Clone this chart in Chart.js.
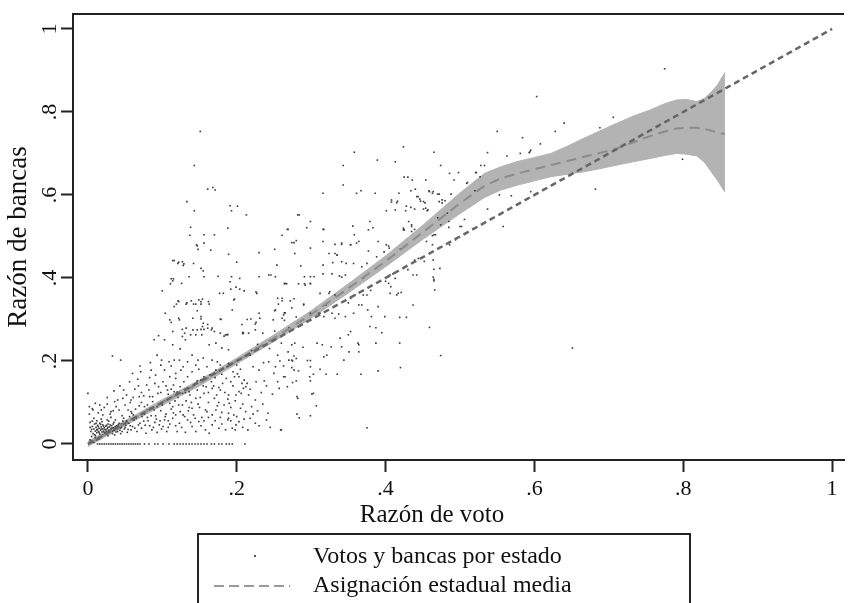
<!DOCTYPE html>
<html lang="es">
<head>
<meta charset="utf-8">
<script src="https://cdn.jsdelivr.net/npm/chart.js@4.4.1/dist/chart.umd.min.js"></script>
<style>
  html, body { margin:0; padding:0; background:#fff; overflow:hidden; }
  #wrap { position:relative; width:848px; height:603px; font-family:"Liberation Serif", serif; color:#111; }
  #grafico { position:absolute; left:0; top:0; }
  .txt { position:absolute; white-space:nowrap; line-height:1; }
  #tituloX { left:302px; width:260px; top:501px; text-align:center; font-size:25px; }
  #leyenda { position:absolute; left:197px; top:533px; width:494px; height:100px; border:2px solid #222; box-sizing:border-box; }
  #leyenda .txt { font-size:24px; left:114px; }
  #punto { position:absolute; left:55px; top:20px; width:2px; height:2px; background:#555; }
  #guion { position:absolute; left:15px; top:49px; }
</style>
</head>
<body>
<div id="wrap">
  <canvas id="grafico" width="848" height="603"></canvas>
  <div class="txt" id="tituloX">Razón de voto</div>
  <div id="leyenda">
    <div id="punto"></div>
    <div class="txt" style="top:8px">Votos y bancas por estado</div>
    <svg id="guion" width="76" height="4"><line x1="0" y1="2" x2="76" y2="2" stroke="#999" stroke-width="2" stroke-dasharray="10 5"/></svg>
    <div class="txt" style="top:37px">Asignación estadual media</div>
  </div>
</div>
<script>
// ===== Ejes =====
const tickValues = [0, 0.2, 0.4, 0.6, 0.8, 1];
const tickLabels = ["0", ".2", ".4", ".6", ".8", "1"];

// ===== Banda de confianza y media (asignación estadual) =====
const bandaX   = [0, 0.05, 0.1, 0.15, 0.2, 0.25, 0.3, 0.35, 0.4, 0.45, 0.5, 0.533, 0.555, 0.578, 0.6, 0.622, 0.645, 0.667, 0.69, 0.711, 0.733, 0.756, 0.775, 0.791, 0.805, 0.818, 0.828, 0.836, 0.846, 0.856];
const mediaY   = [0, 0.05, 0.1, 0.147, 0.2, 0.255, 0.312, 0.375, 0.44, 0.51, 0.58, 0.622, 0.64, 0.652, 0.662, 0.672, 0.682, 0.692, 0.702, 0.712, 0.727, 0.742, 0.753, 0.76, 0.762, 0.762, 0.759, 0.756, 0.75, 0.747];
const bandaInf = [-0.006, 0.044, 0.093, 0.14, 0.193, 0.247, 0.303, 0.364, 0.427, 0.493, 0.555, 0.594, 0.612, 0.624, 0.634, 0.644, 0.65, 0.656, 0.664, 0.672, 0.68, 0.688, 0.695, 0.7, 0.698, 0.694, 0.68, 0.66, 0.635, 0.607];
const bandaSup = [0.006, 0.056, 0.107, 0.154, 0.207, 0.263, 0.321, 0.386, 0.453, 0.527, 0.605, 0.652, 0.668, 0.681, 0.69, 0.7, 0.718, 0.737, 0.756, 0.773, 0.79, 0.805, 0.82, 0.829, 0.83, 0.825, 0.832, 0.845, 0.865, 0.895];

// ===== Linea de 45 grados =====
const diagonalX = [0, 1];
const diagonalY = [0, 1];

// ===== Votos y bancas por estado =====
const puntosCero = [
  [0.013,0],[0.016,0],[0.019,0],[0.022,0],[0.025,0],[0.028,0],[0.031,0],[0.034,0],[0.037,0],[0.040,0],
  [0.043,0],[0.046,0],[0.049,0],[0.052,0],[0.055,0],[0.058,0],[0.061,0],[0.064,0],[0.067,0],[0.070,0],
  [0.076,0],[0.082,0],[0.090,0],[0.094,0],[0.101,0],[0.109,0],[0.116,0],[0.120,0],[0.124,0],[0.128,0],
  [0.132,0],[0.136,0],[0.140,0],[0.144,0],[0.148,0],[0.152,0],[0.156,0],[0.160,0],[0.166,0],[0.170,0],
  [0.176,0],[0.180,0],[0.186,0],[0.190,0],[0.194,0],[0.211,0]
];
const puntosCumulo = [
  [0.004,0.030],[0.006,0.042],[0.007,0.025],[0.008,0.036],[0.009,0.048],[0.010,0.031],[0.011,0.040],[0.012,0.027],
  [0.013,0.035],[0.013,0.045],[0.014,0.030],[0.015,0.038],[0.016,0.024],[0.016,0.050],[0.017,0.033],[0.018,0.041],
  [0.019,0.029],[0.020,0.036],[0.020,0.046],[0.021,0.031],[0.022,0.039],[0.023,0.026],[0.024,0.034],[0.024,0.043],
  [0.025,0.030],[0.026,0.037],[0.027,0.048],[0.028,0.033],[0.029,0.041],[0.030,0.028],[0.031,0.036],[0.032,0.044],
  [0.033,0.031],[0.034,0.039],[0.035,0.052],[0.036,0.034],[0.037,0.042],[0.038,0.029],[0.040,0.037],[0.041,0.046],
  [0.043,0.033],[0.045,0.041],[0.047,0.055],[0.049,0.036],[0.051,0.045],[0.012,0.056],[0.018,0.060],[0.026,0.058],
  [0.031,0.064],[0.008,0.062],[0.003,0.052],[0.005,0.018],[0.010,0.015],[0.019,0.018],[0.027,0.020],[0.036,0.022],
  [0.044,0.025],[0.053,0.028],[0.058,0.034],[0.055,0.050],[0.060,0.042],[0.062,0.058],[0.066,0.030],[0.068,0.046],
  [0.072,0.038],[0.075,0.055],[0.078,0.026],[0.080,0.064],[0.083,0.044],[0.086,0.034],[0.090,0.052],[0.093,0.028],
  [0.096,0.046],[0.099,0.036],[0.103,0.058],[0.106,0.030],[0.110,0.048],[0.002,0.072],[0.006,0.085],[0.014,0.075],
  [0.022,0.088],[0.030,0.072],[0.038,0.090],[0.046,0.068],[0.054,0.082],[0.061,0.070],[0.069,0.092],[0.076,0.072],
  [0.084,0.086],[0.091,0.068],[0.098,0.080],[0.105,0.072],[0.112,0.084],[0.118,0.070],[0.124,0.078],[0.130,0.066],
  [0.136,0.088],[0.142,0.070],[0.148,0.096],[0.153,0.064],[0.160,0.078],[0.167,0.070],[0.174,0.092],[0.180,0.076],
  [0.196,0.070],[0.205,0.086],[0.218,0.062],[0.225,0.050],[0.052,0.118],[0.063,0.132],[0.072,0.124],[0.079,0.142],
  [0.087,0.114],[0.095,0.138],[0.101,0.150],[0.108,0.120],[0.115,0.142],[0.121,0.112],[0.129,0.150],[0.137,0.118],
  [0.144,0.144],[0.151,0.112],[0.159,0.138],[0.166,0.150],[0.173,0.118],[0.181,0.146],[0.188,0.108],[0.195,0.140],
  [0.043,0.140],[0.035,0.128],[0.026,0.112],[0.067,0.156],[0.083,0.160],[0.118,0.158],[0.152,0.154],[0.169,0.140],
  [0.186,0.158],[0.005,0.006],[0.012,0.010],[0.020,0.022],[0.045,0.048],[0.080,0.082],[0.120,0.125],[0.170,0.168],
  [0.220,0.225],[0.270,0.280],[0.320,0.335],[0.370,0.400],[0.420,0.470],[0.470,0.545],[0.520,0.610]
];
const puntosDensos = [
  [0.003,0.040],[0.005,0.035],[0.006,0.055],[0.009,0.022],[0.011,0.050],[0.012,0.034],[0.014,0.042],[0.015,0.028],
  [0.017,0.047],[0.018,0.036],[0.019,0.054],[0.021,0.043],[0.022,0.028],[0.023,0.035],[0.025,0.045],[0.026,0.027],
  [0.027,0.040],[0.028,0.055],[0.029,0.032],[0.030,0.046],[0.032,0.038],[0.033,0.025],[0.034,0.048],[0.035,0.033],
  [0.037,0.058],[0.039,0.044],[0.040,0.030],[0.042,0.050],[0.044,0.038],[0.046,0.030],[0.048,0.062],[0.050,0.040],
  [0.052,0.056],[0.054,0.035],[0.056,0.066],[0.057,0.044],[0.059,0.074],[0.063,0.038],[0.065,0.062],[0.070,0.050],
  [0.073,0.066],[0.077,0.045],[0.081,0.056],[0.085,0.068],[0.088,0.040],[0.092,0.060],[0.097,0.056],[0.101,0.042],
  [0.104,0.066],[0.108,0.040],[0.002,0.090],[0.010,0.098],[0.018,0.082],[0.026,0.096],[0.034,0.080],[0.040,0.106],
  [0.050,0.094],[0.057,0.100],[0.064,0.084],[0.072,0.100],[0.080,0.094],[0.087,0.102],[0.093,0.090],[0.103,0.104],
  [0.110,0.098],[0.117,0.104],[0.122,0.094],[0.132,0.104],[0.139,0.100],[0.145,0.110],[0.150,0.088],[0.162,0.100],
  [0.170,0.110],[0.176,0.100],[0.183,0.094],[0.192,0.088],[0.198,0.104],[0.208,0.096],[0.220,0.090],[0.228,0.080],
  [0.235,0.096],[0.120,0.030],[0.126,0.040],[0.131,0.028],[0.138,0.052],[0.145,0.030],[0.152,0.044],[0.163,0.026],
  [0.171,0.056],[0.180,0.048],[0.199,0.046],[0.208,0.040],[0.215,0.034],[0.230,0.044],[0.240,0.058],[0.245,0.040],
  [0.118,0.044],[0.108,0.056],[0.115,0.075],[0.128,0.070],[0.135,0.080],[0.144,0.062],[0.156,0.056],[0.162,0.064],
  [0.178,0.064],[0.192,0.056],[0.200,0.066],[0.210,0.060],[0.222,0.072],[0.048,0.130],[0.056,0.150],[0.061,0.112],
  [0.068,0.140],[0.075,0.116],[0.082,0.130],[0.090,0.146],[0.098,0.124],[0.105,0.140],[0.112,0.132],[0.124,0.138],
  [0.131,0.124],[0.140,0.136],[0.147,0.152],[0.155,0.140],[0.162,0.124],[0.171,0.160],[0.176,0.136],[0.184,0.124],
  [0.192,0.150],[0.199,0.118],[0.207,0.146],[0.218,0.132],[0.226,0.150],[0.233,0.124],[0.240,0.140],[0.248,0.120],
  [0.250,0.170],[0.236,0.196],[0.222,0.186],[0.205,0.180],[0.195,0.174],[0.180,0.168],[0.160,0.186],[0.145,0.190],
  [0.128,0.186],[0.112,0.188],[0.098,0.190],[0.084,0.196],[0.070,0.188],[0.258,0.200],[0.255,0.150],[0.244,0.230],
  [0.228,0.240],[0.218,0.214],[0.255,0.214],[0.003,0.010],[0.008,0.004],[0.015,0.012],[0.010,0.020]
];
const puntosBajos = [
  [0.033,0.212],[0.044,0.202],[0.000,0.122],[0.095,0.261],[0.089,0.251],[0.103,0.251],[0.114,0.239],[0.124,0.229],
  [0.131,0.251],[0.138,0.263],[0.145,0.263],[0.153,0.263],[0.093,0.214],[0.099,0.202],[0.109,0.198],[0.116,0.202],
  [0.123,0.202],[0.134,0.198],[0.140,0.214],[0.148,0.202],[0.155,0.207],[0.163,0.239],[0.172,0.243],[0.183,0.260],
  [0.187,0.263],[0.180,0.231],[0.189,0.227],[0.167,0.202],[0.174,0.198],[0.178,0.190],[0.189,0.194],[0.200,0.190],
  [0.208,0.266],[0.060,0.170],[0.071,0.174],[0.085,0.178],[0.091,0.166],[0.103,0.178],[0.110,0.162],[0.118,0.170],
  [0.125,0.178],[0.134,0.162],[0.140,0.174],[0.149,0.180],[0.156,0.162],[0.164,0.166],[0.172,0.178],[0.187,0.186],
  [0.203,0.162],[0.214,0.146],[0.209,0.134],[0.016,0.094],[0.036,0.102],[0.047,0.110],[0.058,0.106],[0.069,0.114],
  [0.083,0.114],[0.094,0.122],[0.107,0.130],[0.116,0.126],[0.127,0.122],[0.136,0.126],[0.147,0.130],[0.156,0.122],
  [0.167,0.134],[0.178,0.130],[0.189,0.118],[0.203,0.126],[0.216,0.118],[0.225,0.106],[0.007,0.082],[0.020,0.070],
  [0.031,0.078],[0.042,0.082],[0.058,0.078],[0.076,0.090],[0.089,0.082],[0.100,0.094],[0.114,0.090],[0.127,0.094],
  [0.140,0.086],[0.158,0.082],[0.172,0.082],[0.189,0.074],[0.212,0.078],[0.114,0.062],[0.123,0.050],[0.134,0.058],
  [0.140,0.042],[0.149,0.054],[0.158,0.034],[0.167,0.046],[0.176,0.038],[0.185,0.034],[0.194,0.038],[0.203,0.054],
  [0.189,0.062],[0.197,0.162],[0.201,0.169],[0.210,0.154],[0.212,0.138],[0.230,0.178],[0.237,0.152],[0.243,0.198],
  [0.252,0.186],[0.263,0.162],[0.268,0.138],[0.275,0.200],[0.277,0.178],[0.282,0.110],[0.242,0.074],[0.260,0.034],
  [0.188,0.058],[0.190,0.098],[0.198,0.034],[0.206,0.122]
];
const puntosMedios = [
  [0.269,0.517],[0.146,0.480],[0.148,0.469],[0.165,0.467],[0.189,0.457],[0.230,0.461],[0.251,0.469],[0.278,0.459],
  [0.332,0.459],[0.116,0.442],[0.121,0.435],[0.127,0.439],[0.128,0.430],[0.142,0.435],[0.152,0.423],[0.155,0.417],
  [0.200,0.438],[0.136,0.403],[0.156,0.403],[0.193,0.403],[0.230,0.403],[0.246,0.407],[0.252,0.403],[0.254,0.431],
  [0.286,0.429],[0.316,0.431],[0.291,0.403],[0.299,0.403],[0.304,0.403],[0.316,0.410],[0.328,0.410],[0.329,0.437],
  [0.335,0.455],[0.114,0.393],[0.111,0.386],[0.126,0.387],[0.100,0.369],[0.191,0.391],[0.199,0.378],[0.204,0.373],
  [0.210,0.369],[0.177,0.363],[0.182,0.363],[0.227,0.363],[0.264,0.386],[0.267,0.386],[0.283,0.386],[0.291,0.386],
  [0.299,0.386],[0.312,0.363],[0.255,0.351],[0.261,0.351],[0.261,0.345],[0.196,0.347],[0.197,0.349],[0.154,0.349],
  [0.152,0.343],[0.122,0.343],[0.119,0.337],[0.132,0.337],[0.142,0.337],[0.145,0.337],[0.152,0.337],[0.163,0.337],
  [0.230,0.315],[0.231,0.303],[0.251,0.321],[0.256,0.337],[0.264,0.316],[0.290,0.337],[0.104,0.315],[0.147,0.321],
  [0.152,0.307],[0.152,0.301],[0.155,0.291],[0.122,0.303],[0.112,0.293],[0.141,0.303],[0.178,0.301],[0.207,0.288],
  [0.219,0.301],[0.226,0.293],[0.161,0.288],[0.167,0.279],[0.127,0.276],[0.130,0.267],[0.127,0.259],[0.152,0.276],
  [0.156,0.276],[0.178,0.267],[0.185,0.263],[0.188,0.264],[0.208,0.269],[0.209,0.267],[0.235,0.267],[0.251,0.272],
  [0.325,0.367],[0.332,0.359],[0.312,0.315],[0.317,0.307],[0.337,0.313],[0.114,0.442],[0.122,0.438],[0.129,0.434],
  [0.112,0.398],[0.115,0.398],[0.175,0.404],[0.204,0.399],[0.192,0.373],[0.226,0.366],[0.243,0.407],[0.265,0.387],
  [0.116,0.331],[0.121,0.345],[0.133,0.340],[0.139,0.345],[0.149,0.347],[0.162,0.343],[0.154,0.283],[0.179,0.300],
  [0.194,0.323],[0.123,0.299],[0.114,0.271],[0.110,0.299],[0.132,0.279],[0.141,0.275],[0.147,0.275],[0.161,0.279],
  [0.166,0.275],[0.170,0.271],[0.214,0.300],[0.225,0.289],[0.216,0.267],[0.225,0.275],[0.252,0.323],[0.263,0.311],
  [0.249,0.299],[0.264,0.298],[0.274,0.328],[0.277,0.350],[0.280,0.306]
];
const puntosAltos = [
  [0.151,0.753],[0.143,0.671],[0.161,0.614],[0.168,0.618],[0.171,0.612],[0.133,0.584],[0.143,0.562],[0.191,0.574],
  [0.201,0.573],[0.193,0.562],[0.213,0.552],[0.138,0.522],[0.188,0.520],[0.156,0.504],[0.170,0.504],[0.137,0.503],
  [0.268,0.517],[0.261,0.503],[0.274,0.485],[0.282,0.552],[0.147,0.477],[0.156,0.484],[0.603,0.837],[0.640,0.773],
  [0.628,0.753],[0.550,0.753],[0.584,0.738],[0.608,0.723],[0.594,0.704],[0.581,0.700],[0.563,0.694],[0.537,0.702],
  [0.424,0.716],[0.358,0.703],[0.465,0.703],[0.389,0.684],[0.413,0.680],[0.343,0.671],[0.474,0.671],[0.528,0.671],
  [0.533,0.671],[0.486,0.652],[0.498,0.654],[0.522,0.654],[0.425,0.643],[0.430,0.643],[0.436,0.636],[0.454,0.636],
  [0.492,0.636],[0.509,0.628],[0.343,0.624],[0.361,0.604],[0.367,0.610],[0.386,0.604],[0.316,0.604],[0.418,0.604],
  [0.434,0.610],[0.440,0.614],[0.459,0.608],[0.463,0.604],[0.472,0.602],[0.488,0.602],[0.408,0.588],[0.416,0.585],
  [0.408,0.583],[0.444,0.596],[0.447,0.585],[0.453,0.581],[0.472,0.584],[0.476,0.588],[0.401,0.562],[0.413,0.564],
  [0.427,0.562],[0.451,0.566],[0.456,0.562],[0.537,0.566],[0.483,0.556],[0.284,0.552],[0.299,0.536],[0.294,0.521],
  [0.316,0.517],[0.356,0.525],[0.379,0.536],[0.383,0.521],[0.377,0.516],[0.358,0.504],[0.424,0.516],[0.431,0.536],
  [0.435,0.524],[0.439,0.517],[0.465,0.504],[0.474,0.528],[0.485,0.522],[0.506,0.541],[0.558,0.524],[0.277,0.485],
  [0.280,0.490],[0.299,0.472],[0.316,0.488],[0.341,0.484],[0.353,0.480],[0.364,0.488],[0.401,0.480],[0.405,0.472],
  [0.455,0.488],[0.463,0.480],[0.494,0.492],[0.486,0.480],[0.775,0.904],[0.706,0.787],[0.688,0.762],[0.799,0.686],
  [0.682,0.614],[0.595,0.708],[0.593,0.702],[0.521,0.654],[0.527,0.644],[0.510,0.630],[0.553,0.600],[0.569,0.598],
  [0.595,0.608]
];
const puntosDerecha = [
  [0.442,0.596],[0.446,0.590],[0.451,0.584],[0.458,0.610],[0.464,0.608],[0.470,0.602],[0.415,0.581],[0.428,0.573],
  [0.434,0.570],[0.439,0.566],[0.454,0.568],[0.457,0.564],[0.476,0.581],[0.480,0.586],[0.485,0.536],[0.500,0.524],
  [0.317,0.517],[0.390,0.488],[0.404,0.477],[0.424,0.520],[0.425,0.516],[0.435,0.512],[0.435,0.528],[0.463,0.502],
  [0.467,0.504],[0.502,0.524],[0.332,0.481],[0.341,0.481],[0.353,0.480],[0.361,0.484],[0.324,0.459],[0.335,0.455],
  [0.341,0.439],[0.347,0.435],[0.377,0.465],[0.388,0.451],[0.398,0.463],[0.338,0.405],[0.341,0.402],[0.346,0.407],
  [0.357,0.435],[0.368,0.427],[0.375,0.435],[0.406,0.407],[0.410,0.410],[0.413,0.399],[0.404,0.387],[0.407,0.379],
  [0.439,0.443],[0.444,0.447],[0.437,0.407],[0.442,0.407],[0.464,0.443],[0.465,0.421],[0.473,0.423],[0.465,0.397],
  [0.466,0.371],[0.437,0.335],[0.292,0.383],[0.299,0.387],[0.324,0.363],[0.353,0.351],[0.359,0.359],[0.370,0.359],
  [0.375,0.359],[0.364,0.335],[0.368,0.335],[0.376,0.323],[0.381,0.307],[0.399,0.307],[0.415,0.359],[0.417,0.363],
  [0.406,0.363],[0.390,0.331],[0.290,0.335],[0.299,0.315],[0.310,0.315],[0.328,0.315],[0.332,0.303],[0.346,0.307],
  [0.357,0.315],[0.272,0.345],[0.261,0.303],[0.265,0.316],[0.260,0.243],[0.274,0.239],[0.278,0.243],[0.269,0.222],
  [0.277,0.212],[0.280,0.206],[0.289,0.233],[0.270,0.202],[0.274,0.202],[0.308,0.243],[0.315,0.239],[0.317,0.210],
  [0.321,0.214],[0.327,0.234],[0.341,0.234],[0.339,0.255],[0.350,0.263],[0.353,0.271],[0.363,0.243],[0.364,0.239],
  [0.364,0.222],[0.344,0.202],[0.351,0.222],[0.379,0.283],[0.387,0.280],[0.395,0.268],[0.387,0.243],[0.419,0.305],
  [0.428,0.305],[0.419,0.243],[0.420,0.184],[0.459,0.281],[0.474,0.213],[0.390,0.176],[0.367,0.168],[0.335,0.168],
  [0.320,0.168],[0.312,0.180],[0.299,0.186],[0.299,0.201],[0.295,0.201],[0.303,0.168],[0.298,0.162],[0.299,0.152],
  [0.283,0.176],[0.274,0.184],[0.263,0.188],[0.265,0.162],[0.275,0.148],[0.280,0.152],[0.301,0.120],[0.303,0.122],
  [0.307,0.092],[0.281,0.114],[0.281,0.072],[0.284,0.063],[0.299,0.068],[0.259,0.034],[0.375,0.039],[0.257,0.134],
  [0.651,0.231],[0.464,0.402],[0.465,0.393],[0.421,0.365],[0.350,0.340],[0.380,0.370],[0.400,0.392],[0.430,0.420],
  [0.452,0.440]
];

// ===== Armado =====
const xy = (xs, ys) => xs.map((x, i) => ({ x: x, y: ys[i] }));
const pares = arr => arr.map(p => ({ x: p[0], y: p[1] }));
const puntos = [].concat(pares(puntosCero), pares(puntosCumulo), pares(puntosDensos), pares(puntosBajos),
  pares(puntosMedios), pares(puntosAltos), pares(puntosDerecha));

const serif = "'Liberation Serif', 'Times New Roman', serif";
const ink = "#111";

const marcoSuperior = {
  id: "marcoSuperior",
  afterDraw(chart) {
    const { ctx, chartArea: a } = chart;
    ctx.save();
    ctx.strokeStyle = "#222"; ctx.lineWidth = 2;
    ctx.beginPath(); ctx.moveTo(a.left - 1, a.top); ctx.lineTo(a.right, a.top); ctx.stroke();
    ctx.restore();
  }
};

new Chart(document.getElementById("grafico"), {
  type: "scatter",
  data: {
    datasets: [
      { label: "diagonal", data: xy(diagonalX, diagonalY), showLine: true, borderColor: "#666", borderWidth: 2.5,
        borderDash: [6, 4], pointRadius: 0, order: 0 },
      { label: "Asignación estadual media", data: xy(bandaX, mediaY), showLine: true, borderColor: "#8c8c8c",
        borderWidth: 2, borderDash: [10, 6], pointRadius: 0, order: 1 },
      { label: "Votos y bancas por estado", data: puntos, pointRadius: 1.15, pointStyle: "rect",
        backgroundColor: "#3c3c3c", borderWidth: 0, order: 2 },
      { label: "banda sup", data: xy(bandaX, bandaSup), showLine: true, borderColor: "#b3b3b3", borderWidth: 1,
        pointRadius: 0, fill: "+1", backgroundColor: "#b3b3b3", order: 3 },
      { label: "banda inf", data: xy(bandaX, bandaInf), showLine: true, borderColor: "#b3b3b3", borderWidth: 1,
        pointRadius: 0, order: 4 }
    ]
  },
  options: {
    responsive: false,
    animation: false,
    layout: { padding: { top: 14, right: 0, bottom: 70, left: 0 } },
    plugins: { legend: { display: false }, tooltip: { enabled: false } },
    scales: {
      x: {
        type: "linear", min: -0.02, max: 1.016,
        afterBuildTicks: s => { s.ticks = tickValues.map(v => ({ value: v })); },
        afterFit: s => { s.height = 73; },
        ticks: { callback: (v, i) => tickLabels[i], font: { family: serif, size: 22 }, color: ink,
          padding: 4, maxRotation: 0, autoSkip: false },
        grid: { drawOnChartArea: false, drawTicks: true, tickLength: 12, tickWidth: 2, tickColor: "#222" },
        border: { display: true, color: "#222", width: 2 }
      },
      y: {
        type: "linear", min: -0.0386, max: 1.036,
        afterBuildTicks: s => { s.ticks = tickValues.map(v => ({ value: v })); },
        afterFit: s => { s.width = 73; },
        ticks: { callback: (v, i) => tickLabels[i], font: { family: serif, size: 22, lineHeight: 1 }, color: ink,
          padding: 3, minRotation: 90, maxRotation: 90, crossAlign: "center", autoSkip: false },
        grid: { drawOnChartArea: false, drawTicks: true, tickLength: 12, tickWidth: 2, tickColor: "#222" },
        border: { display: true, color: "#222", width: 2 },
        title: { display: true, text: "Razón de bancas", color: ink, font: { family: serif, size: 27, lineHeight: 1.2 },
          padding: { top: 3, bottom: 0 } }
      }
    }
  },
  plugins: [marcoSuperior]
});
</script>
</body>
</html>
